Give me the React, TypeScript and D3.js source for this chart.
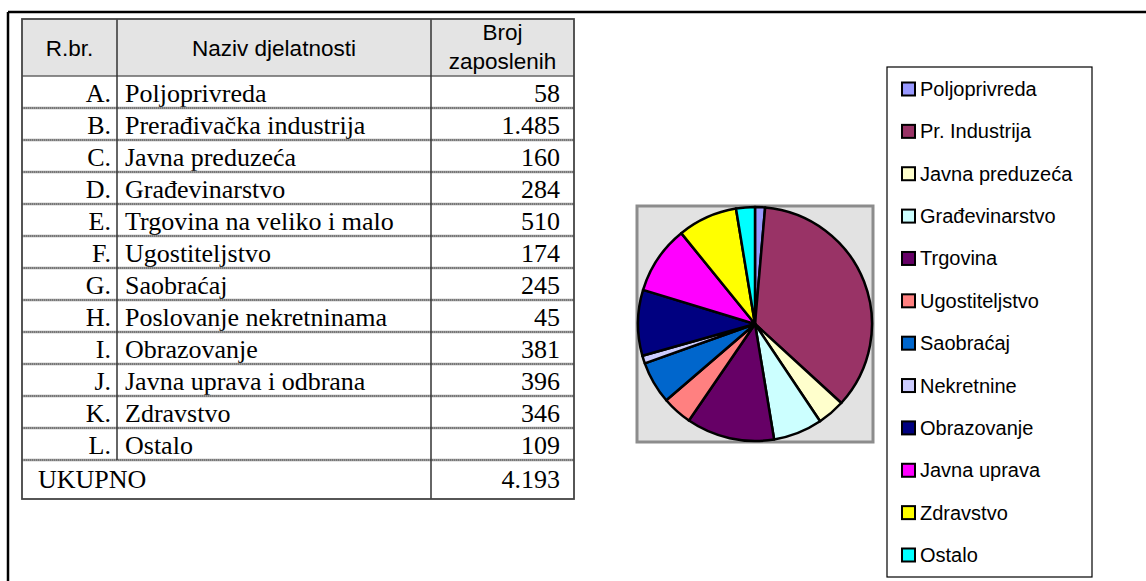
import React from "react";
import * as d3 from "d3";

const codes = ["A.", "B.", "C.", "D.", "E.", "F.", "G.", "H.", "I.", "J.", "K.", "L."];
const activities = [
  "Poljoprivreda",
  "Prerađivačka industrija",
  "Javna preduzeća",
  "Građevinarstvo",
  "Trgovina na veliko i malo",
  "Ugostiteljstvo",
  "Saobraćaj",
  "Poslovanje nekretninama",
  "Obrazovanje",
  "Javna uprava i odbrana",
  "Zdravstvo",
  "Ostalo",
];
const employees = [58, 1485, 160, 284, 510, 174, 245, 45, 381, 396, 346, 109];
const legendLabels = [
  "Poljoprivreda",
  "Pr. Industrija",
  "Javna preduzeća",
  "Građevinarstvo",
  "Trgovina",
  "Ugostiteljstvo",
  "Saobraćaj",
  "Nekretnine",
  "Obrazovanje",
  "Javna uprava",
  "Zdravstvo",
  "Ostalo",
];
const sliceColors = [
  "#9999ff",
  "#993366",
  "#ffffcc",
  "#ccffff",
  "#660066",
  "#ff8080",
  "#0066cc",
  "#ccccff",
  "#000080",
  "#ff00ff",
  "#ffff00",
  "#00ffff",
];
const headerCode = "R.br.";
const headerName = "Naziv djelatnosti";
const headerCount = ["Broj", "zaposlenih"];
const totalLabel = "UKUPNO";

const locale = d3.formatLocale({ decimal: ",", thousands: ".", grouping: [3], currency: ["", ""] });
const fmt = locale.format(",d");

const SANS = "'Liberation Sans', Arial, sans-serif";
const SERIF = "'Liberation Serif', 'Times New Roman', serif";

export default function App() {
  const W = 1146;
  const H = 581;

  // table geometry
  const tL = 22, c1 = 117, c2 = 431, tR = 574;
  const headTop = 19, headBot = 76;
  const rowY = d3.scaleLinear().domain([0, employees.length]).range([headBot, headBot + 32 * employees.length]);
  const totTop = rowY(employees.length);
  const totBot = totTop + 39;

  // pie
  const box = { x: 637, y: 206, w: 236, h: 236 };
  const cx = box.x + box.w / 2, cy = box.y + box.h / 2;
  const r = 117;
  const pie = d3.pie<number>().sort(null).value((d) => d)(employees);
  const arc = d3.arc<d3.PieArcDatum<number>>().innerRadius(0).outerRadius(r);

  // legend
  const lg = { x: 887, y: 67, w: 205, h: 510 };
  const itemY = d3.scaleLinear().domain([0, legendLabels.length - 1]).range([89, 555]);

  const total = d3.sum(employees);

  return (
    <svg width={W} height={H} style={{ position: "absolute", left: 0, top: 0, background: "#fff" }}>
      {/* outer frame */}
      <line x1={8} y1={12} x2={W} y2={12} stroke="#000" strokeWidth={2.5} />
      <line x1={8} y1={12} x2={8} y2={H} stroke="#000" strokeWidth={2.5} />

      {/* table header */}
      <rect x={tL} y={headTop} width={tR - tL} height={headBot - headTop} fill="#e4e4e4" />
      <text x={(tL + c1) / 2} y={(headTop + headBot) / 2 + 8} textAnchor="middle" fontFamily={SANS} fontSize={22.5} fill="#000">
        {headerCode}
      </text>
      <text x={(c1 + c2) / 2} y={(headTop + headBot) / 2 + 8} textAnchor="middle" fontFamily={SANS} fontSize={22.5} fill="#000">
        {headerName}
      </text>
      {headerCount.map((t, i) => (
        <text key={t} x={(c2 + tR) / 2} y={40 + i * 29} textAnchor="middle" fontFamily={SANS} fontSize={22.5} fill="#000">
          {t}
        </text>
      ))}
      <line x1={tL} y1={headBot} x2={tR} y2={headBot} stroke="#666" strokeWidth={1.5} />

      {/* body rows */}
      {employees.map((v, i) => {
        const y0 = rowY(i);
        const y1 = rowY(i + 1);
        return (
          <g key={i}>
            <text x={c1 - 6} y={y0 + 26} textAnchor="end" fontFamily={SERIF} fontSize={26} fill="#000">
              {codes[i]}
            </text>
            <text x={c1 + 8} y={y0 + 26} fontFamily={SERIF} fontSize={26} fill="#000">
              {activities[i]}
            </text>
            <text x={tR - 14} y={y0 + 26} textAnchor="end" fontFamily={SERIF} fontSize={26} fill="#000">
              {fmt(v)}
            </text>
            <line x1={tL} y1={y1} x2={tR} y2={y1} stroke="#9a9a9a" strokeWidth={2.5} />
            <line x1={tL} y1={y1} x2={tR} y2={y1} stroke="#555" strokeWidth={1} strokeDasharray="1 1" />
          </g>
        );
      })}
      <text x={38} y={totTop + 28} fontFamily={SERIF} fontSize={26} fill="#000">
        {totalLabel}
      </text>
      <text x={tR - 14} y={totTop + 28} textAnchor="end" fontFamily={SERIF} fontSize={26} fill="#000">
        {fmt(total)}
      </text>

      {/* vertical dividers */}
      <line x1={c1} y1={headTop} x2={c1} y2={totTop} stroke="#333" strokeWidth={1.5} />
      <line x1={c2} y1={headTop} x2={c2} y2={totBot} stroke="#333" strokeWidth={1.5} />
      <rect x={tL} y={headTop} width={tR - tL} height={totBot - headTop} fill="none" stroke="#444" strokeWidth={1.8} />

      {/* pie */}
      <rect x={box.x} y={box.y} width={box.w} height={box.h} fill="#e2e2e2" stroke="#8c8c8c" strokeWidth={3} />
      <g transform={`translate(${cx},${cy})`}>
        {pie.map((d, i) => (
          <path key={i} d={arc(d) || ""} fill={sliceColors[i]} stroke="#000" strokeWidth={2.5} strokeLinejoin="round" />
        ))}
      </g>

      {/* legend */}
      <rect x={lg.x} y={lg.y} width={lg.w} height={lg.h} fill="#fff" stroke="#000" strokeWidth={1.2} />
      {legendLabels.map((t, i) => {
        const y = itemY(i);
        return (
          <g key={t}>
            <rect x={902} y={y - 6.5} width={13} height={13} fill={sliceColors[i]} stroke="#000" strokeWidth={2} />
            <text x={920} y={y + 7} fontFamily={SANS} fontSize={20} fill="#000">
              {t}
            </text>
          </g>
        );
      })}
    </svg>
  );
}
